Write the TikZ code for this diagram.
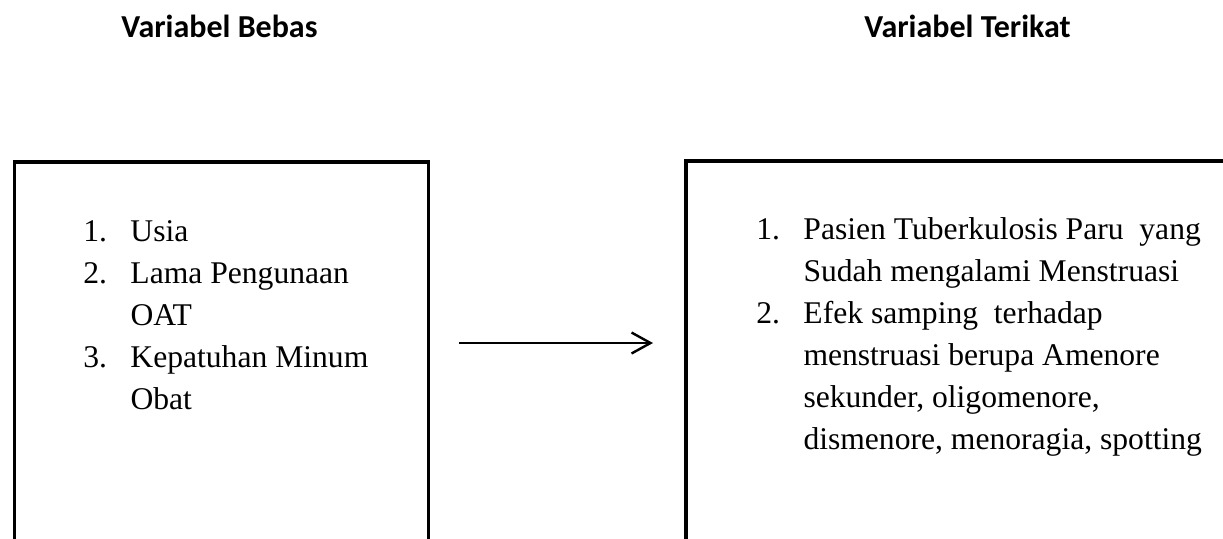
\documentclass[tikz,border=0pt]{standalone}
\usepackage{fontspec}
\setmainfont{Liberation Serif}
\newfontfamily\headfont{Carlito}
\usetikzlibrary{arrows.meta}

\begin{document}
\begin{tikzpicture}[x=0.5pt,y=-0.5pt,
    varbox/.style={draw,line width=1.9pt,anchor=north west,inner sep=0pt},
    heading/.style={anchor=base west,inner sep=0pt,font=\headfont\bfseries\fontsize{16}{19}\selectfont},
    itemlist/.style={anchor=base west,inner sep=0pt,font=\rmfamily\fontsize{15.8}{21}\selectfont},
    link/.style={-{Straight Barb[length=9.5pt,width=10.5pt]},line width=1.2pt}]
    \useasboundingbox (0,0) rectangle (1223,538);
    \clip (0,0) rectangle (1223,538);

    \node[heading] (bebashead) at (121,37) {Variabel Bebas};
    \node[heading] (terikathead) at (864,37) {Variabel Terikat};

    \node[varbox,minimum width=207pt,minimum height=230pt] (bebas) at (12.5,160) {};
    \node[varbox,minimum width=280pt,minimum height=230pt] (terikat) at (684,159) {};

    \node[itemlist] (bebaslist) at (83,241) {\begin{tabular}[t]{@{}l@{\hspace{11.7pt}}l@{}}
        1. & Usia\\
        2. & Lama Pengunaan\\
           & OAT\\
        3. & Kepatuhan Minum\\
           & Obat
    \end{tabular}};
    \node[itemlist] (terikatlist) at (756,239) {\begin{tabular}[t]{@{}l@{\hspace{11.7pt}}l@{}}
        1. & Pasien Tuberkulosis Paru\ \ yang\\
           & Sudah mengalami Menstruasi\\
        2. & Efek samping\ \ terhadap\\
           & menstruasi berupa Amenore\\
           & sekunder, oligomenore,\\
           & dismenore, menoragia, spotting
    \end{tabular}};

    % bebas -> terikat
    \coordinate (arrowrow) at (0,343);
    \draw[link,shorten <=14.5pt,shorten >=15.5pt] (bebas.east |- arrowrow) -- (terikat.west |- arrowrow);

\end{tikzpicture}
\end{document}
